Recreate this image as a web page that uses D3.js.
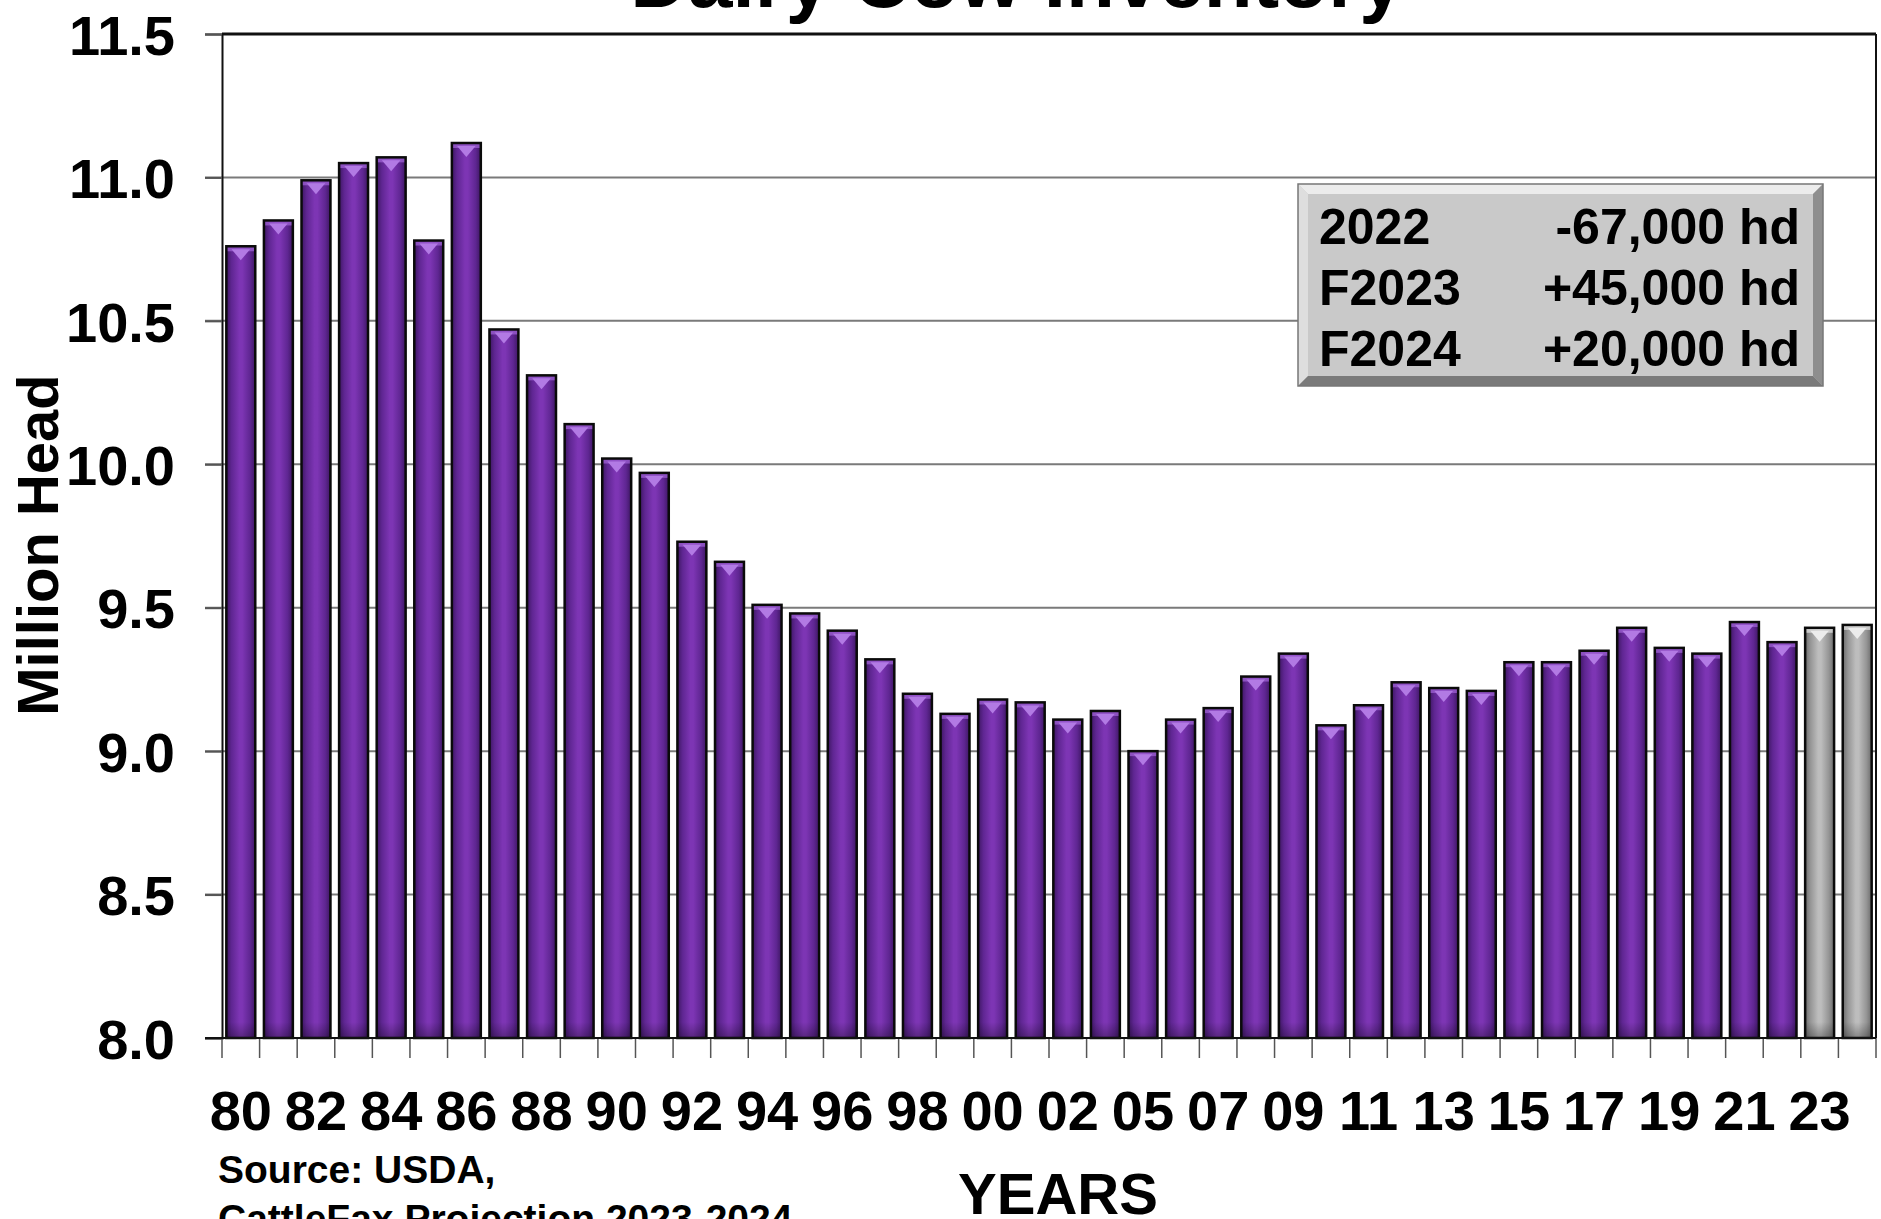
<!DOCTYPE html>
<html>
<head>
<meta charset="utf-8">
<script src="https://cdn.jsdelivr.net/npm/d3@7"></script>
<style>
  html, body { margin: 0; padding: 0; background: #fff; }
  svg { display: block; font-family: "Liberation Sans", Arial, sans-serif; font-weight: bold; }
</style>
</head>
<body>
<div id="grafico"></div>
<script>
// dados (milhoes de cabecas)
const anos = ["1980","1981","1982","1983","1984","1985","1986","1987","1988","1989",
              "1990","1991","1992","1993","1994","1995","1996","1997","1998","1999",
              "2000","2001","2002","2004","2005","2006","2007","2008","2009","2010",
              "2011","2012","2013","2014","2015","2016","2017","2018","2019","2020",
              "2021","2022","2023","2024"];
const vacas = [10.76, 10.85, 10.99, 11.05, 11.07, 10.78, 11.12, 10.47, 10.31, 10.14,
               10.02, 9.97, 9.73, 9.66, 9.51, 9.48, 9.42, 9.32, 9.20, 9.13,
               9.18, 9.17, 9.11, 9.14, 9.00, 9.11, 9.15, 9.26, 9.34, 9.09,
               9.16, 9.24, 9.22, 9.21, 9.31, 9.31, 9.35, 9.43, 9.36, 9.34,
               9.45, 9.38, 9.43, 9.44];
const projecao = ["2023", "2024"];
const rotulosX = ["80","82","84","86","88","90","92","94","96","98","00","02",
                  "05","07","09","11","13","15","17","19","21","23"];
const ticksY = [8.0, 8.5, 9.0, 9.5, 10.0, 10.5, 11.0, 11.5];
const notaAnos = ["2022", "F2023", "F2024"];
const notaValores = ["-67,000 hd", "+45,000 hd", "+20,000 hd"];

const largura = 1881;
const altura = 1219;
const esq = 222, dir = 1876, topo = 34, base = 1038;

const svg = d3.select("#grafico")
    .append("svg")
    .attr("width", largura)
    .attr("height", altura);

const defs = svg.append("defs");
function gradiente(id, escuro, medio, claro) {
    const g = defs.append("linearGradient").attr("id", id)
        .attr("x1", "0%").attr("x2", "100%").attr("y1", "0%").attr("y2", "0%");
    [[0, escuro], [0.18, medio], [0.45, claro], [0.55, claro], [0.82, medio], [1, escuro]]
        .forEach(s => g.append("stop").attr("offset", s[0]).attr("stop-color", s[1]));
}
gradiente("roxo", "#3e1763", "#5f2692", "#7d35b4");
gradiente("cinza", "#6c6c6c", "#959595", "#bdbdbd");

// sombra vertical suave na base das barras
const sombra = defs.append("linearGradient").attr("id", "sombra")
    .attr("x1", "0%").attr("x2", "0%").attr("y1", "0%").attr("y2", "100%");
sombra.append("stop").attr("offset", 0).attr("stop-color", "#000").attr("stop-opacity", 0);
sombra.append("stop").attr("offset", 1).attr("stop-color", "#000").attr("stop-opacity", 0.3);

const x = d3.scaleBand()
    .domain(anos)
    .range([esq, dir])
    .paddingInner(0.23)
    .paddingOuter(0.115);

const y = d3.scaleLinear()
    .domain([8, 11.5])
    .range([base, topo]);

// linhas de grade
svg.append("g")
    .selectAll("line")
    .data(ticksY.filter(t => t > 8 && t < 11.5))
    .enter()
    .append("line")
    .attr("x1", esq - 17).attr("x2", dir)
    .attr("y1", d => y(d)).attr("y2", d => y(d))
    .attr("stroke", "#7a7a7a")
    .attr("stroke-width", 2);

// borda do grafico
svg.append("line").attr("x1", esq).attr("x2", dir).attr("y1", topo).attr("y2", topo)
    .attr("stroke", "#111").attr("stroke-width", 3);
svg.append("line").attr("x1", dir).attr("x2", dir).attr("y1", topo).attr("y2", base)
    .attr("stroke", "#111").attr("stroke-width", 2);

// eixo Y
const eixoY = svg.append("g")
    .attr("transform", `translate(${esq},0)`)
    .call(d3.axisLeft(y).tickValues(ticksY).tickSize(17).tickPadding(30).tickFormat(d3.format(".1f")));
eixoY.select(".domain").attr("stroke", "#111").attr("stroke-width", 2);
eixoY.selectAll(".tick line").attr("stroke", "#555").attr("stroke-width", 2);
eixoY.selectAll("text")
    .attr("fill", "#000")
    .style("font-size", "56px")
    .style("font-family", "'Liberation Sans', Arial, sans-serif")
    .style("font-weight", "bold")
    .attr("dy", "0.36em");

// eixo X (ticks nos limites das categorias)
const limites = anos.map(a => x(a) - x.step() * x.paddingInner() / 2).concat([dir]);
svg.append("g")
    .selectAll("line")
    .data(limites)
    .enter()
    .append("line")
    .attr("x1", d => d).attr("x2", d => d)
    .attr("y1", base).attr("y2", base + 20)
    .attr("stroke", "#555")
    .attr("stroke-width", 1.5);

// barras
const barras = svg.append("g")
    .selectAll("g")
    .data(anos.map((a, i) => ({ ano: a, total: vacas[i], proj: projecao.includes(a) })))
    .enter()
    .append("g");

barras.append("rect")
    .attr("x", d => x(d.ano))
    .attr("y", d => y(d.total))
    .attr("width", x.bandwidth())
    .attr("height", d => base - y(d.total))
    .attr("fill", d => d.proj ? "url(#cinza)" : "url(#roxo)");

// sombra na base
barras.append("rect")
    .attr("x", d => x(d.ano))
    .attr("y", base - 16)
    .attr("width", x.bandwidth())
    .attr("height", 16)
    .attr("fill", "url(#sombra)");

// faixa e triangulo do topo
barras.append("rect")
    .attr("x", d => x(d.ano))
    .attr("y", d => y(d.total))
    .attr("width", x.bandwidth())
    .attr("height", 5)
    .attr("fill", d => d.proj ? "#d8d8d8" : "#9a5ccf")
    .attr("opacity", 0.8);

barras.append("path")
    .attr("d", d => {
        const x0 = x(d.ano), w = x.bandwidth(), y0 = y(d.total) + 3;
        return `M${x0 + w * 0.18},${y0} L${x0 + w * 0.82},${y0} L${x0 + w / 2},${y0 + 11} Z`;
    })
    .attr("fill", d => d.proj ? "#ececec" : "#b27ae4");

barras.append("rect")
    .attr("x", d => x(d.ano))
    .attr("y", d => y(d.total))
    .attr("width", x.bandwidth())
    .attr("height", d => base - y(d.total))
    .attr("fill", "none")
    .attr("stroke", "#0a0a0a")
    .attr("stroke-width", 2.5);

// linha base
svg.append("line").attr("x1", esq - 17).attr("x2", dir).attr("y1", base).attr("y2", base)
    .attr("stroke", "#111").attr("stroke-width", 2);

// rotulos do eixo X (um a cada dois anos)
svg.append("g")
    .selectAll("text")
    .data(rotulosX)
    .enter()
    .append("text")
    .attr("x", (d, i) => x(anos[i * 2]) + x.bandwidth() / 2)
    .attr("y", 1130)
    .attr("text-anchor", "middle")
    .style("font-size", "56px")
    .text(d => d);

// titulos
svg.append("text")
    .attr("x", 1017).attr("y", 7)
    .attr("text-anchor", "middle")
    .style("font-size", "80px")
    .text("Dairy Cow Inventory");

svg.append("text")
    .attr("transform", "translate(58,545) rotate(-90)")
    .attr("text-anchor", "middle")
    .style("font-size", "58px")
    .text("Million Head");

svg.append("text")
    .attr("x", 1058).attr("y", 1214)
    .attr("text-anchor", "middle")
    .style("font-size", "58px")
    .text("YEARS");

svg.append("text")
    .attr("x", 218).attr("y", 1183)
    .style("font-size", "39px")
    .text("Source: USDA,");
svg.append("text")
    .attr("x", 218).attr("y", 1232)
    .style("font-size", "39px")
    .text("CattleFax Projection 2023-2024");

// caixa de anotacao com bisel
const cx0 = 1298, cy0 = 184, cx1 = 1823, cy1 = 386, b = 10;
const caixa = svg.append("g");
caixa.append("rect").attr("x", cx0).attr("y", cy0).attr("width", cx1 - cx0).attr("height", cy1 - cy0)
    .attr("fill", "#c9c9c9");
caixa.append("path").attr("d", `M${cx0},${cy0} L${cx1},${cy0} L${cx1 - b},${cy0 + b} L${cx0 + b},${cy0 + b} Z`)
    .attr("fill", "#ececec");
caixa.append("path").attr("d", `M${cx0},${cy0} L${cx0 + b},${cy0 + b} L${cx0 + b},${cy1 - b} L${cx0},${cy1} Z`)
    .attr("fill", "#dedede");
caixa.append("path").attr("d", `M${cx1},${cy0} L${cx1},${cy1} L${cx1 - b},${cy1 - b} L${cx1 - b},${cy0 + b} Z`)
    .attr("fill", "#8e8e8e");
caixa.append("path").attr("d", `M${cx0},${cy1} L${cx1},${cy1} L${cx1 - b},${cy1 - b} L${cx0 + b},${cy1 - b} Z`)
    .attr("fill", "#7a7a7a");
caixa.append("rect").attr("x", cx0).attr("y", cy0).attr("width", cx1 - cx0).attr("height", cy1 - cy0)
    .attr("fill", "none").attr("stroke", "#777").attr("stroke-width", 1.5);

caixa.selectAll(".nota-ano")
    .data(notaAnos)
    .enter()
    .append("text")
    .attr("x", 1319)
    .attr("y", (d, i) => 244 + i * 61)
    .style("font-size", "50px")
    .text(d => d);

caixa.selectAll(".nota-valor")
    .data(notaValores)
    .enter()
    .append("text")
    .attr("x", 1800)
    .attr("y", (d, i) => 244 + i * 61)
    .attr("text-anchor", "end")
    .style("font-size", "50px")
    .text(d => d);
</script>
</body>
</html>
